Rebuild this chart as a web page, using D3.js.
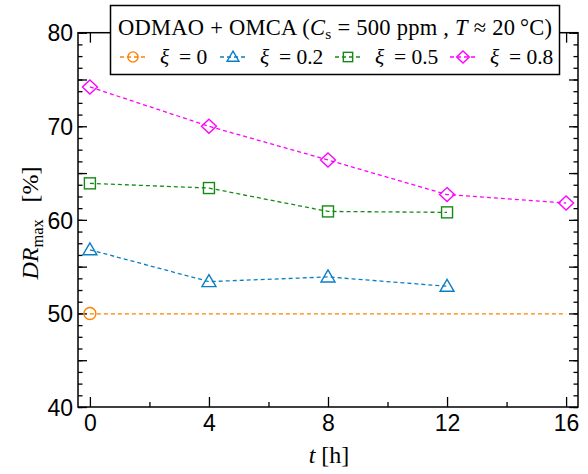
<!DOCTYPE html>
<html>
<head>
<meta charset="utf-8">
<script src="https://cdn.jsdelivr.net/npm/d3@7"></script>
<style>
  body { margin: 0; background: #fff; }
  svg { display: block; }
</style>
</head>
<body>
<svg id="chart" width="588" height="474"></svg>
<script>
// measured times [h]
var times = [0, 4, 8, 12, 16];

// DR_max [%] per xi, null where not measured
var xi0   = [50.0, null, null, null, null];
var xi02  = [56.8, 53.4, 53.9, 52.9, null];
var xi05  = [63.9, 63.4, 60.9, 60.8, null];
var xi08  = [74.2, 70.0, 66.4, 62.7, 61.8];

// xi = 0 reference level drawn across the whole range
var xi0Level = 49.95;
var xi0Span = [0, 16];

var xTicks = [0, 4, 8, 12, 16];
var xMinor = [2, 6, 10, 14];
var yTicks = [40, 50, 60, 70, 80];
var yMajor = [45, 55, 65, 75];
var yMinor = d3.range(40, 80.01, 1.25);

var legendLabels = ["0", "0.2", "0.5", "0.8"];

var series = [
    {"id": "xi0",  "values": xi0,  "color": "#ff8000", "shape": "circle"},
    {"id": "xi02", "values": xi02, "color": "#0a7fc4", "shape": "triangle"},
    {"id": "xi05", "values": xi05, "color": "#168a16", "shape": "square"},
    {"id": "xi08", "values": xi08, "color": "#ff00ff", "shape": "diamond"}];

var svg = d3.select("#chart");

// plot box (window.top is read-only, so no bare "top")
var plotL = 78, plotR = 578, plotT = 32.7, plotB = 407;

var x = d3.scaleLinear().domain([-0.4, 16.4]).range([plotL, plotR]);
var y = d3.scaleLinear().domain([40, 80]).range([plotB, plotT]);

//Draw a marker of the given shape centered at (cx, cy)
function drawMarker(g, shape, cx, cy, color, k) {
    k = typeof k !== 'undefined' ? k : 1;
    var m;
    if (shape == "circle") {
        m = g.append("circle").attr("cx", cx).attr("cy", cy).attr("r", 6 * k);
    }
    else if (shape == "triangle") {
        m = g.append("path").attr("d", "M" + cx + "," + (cy - 7 * k) + "L" + (cx + 7 * k) + "," + (cy + 5 * k) + "L" + (cx - 7 * k) + "," + (cy + 5 * k) + "Z");
    }
    else if (shape == "square") {
        m = g.append("rect").attr("x", cx - 5.5 * k).attr("y", cy - 5.5 * k).attr("width", 11 * k).attr("height", 11 * k);
    }
    else {
        m = g.append("path").attr("d", "M" + cx + "," + (cy - 7 * k) + "L" + (cx + 7.5 * k) + "," + cy + "L" + cx + "," + (cy + 7 * k) + "L" + (cx - 7.5 * k) + "," + cy + "Z");
    }
    m.attr("fill", "none").attr("stroke", color).attr("stroke-width", 1.4);
}

//Axes with inward ticks
function tickAxis(axisFn, scale, values, size, pad, transform, labels) {
    var a = axisFn(scale).tickValues(values).tickSizeInner(-size).tickSizeOuter(0).tickPadding(pad);
    if (!labels) a.tickFormat("");
    var g = svg.append("g").attr("transform", transform).call(a);
    g.select(".domain").remove();
    g.selectAll("line").attr("stroke", "#000").attr("stroke-width", 1.3);
    g.selectAll("text").attr("font-family", "Liberation Sans, Arial, sans-serif").attr("font-size", 23).attr("fill", "#000");
    return g;
}

tickAxis(d3.axisBottom, x, xTicks, 10, 8, "translate(0," + plotB + ")", true);
tickAxis(d3.axisBottom, x, xMinor, 5, 8, "translate(0," + plotB + ")", false);
tickAxis(d3.axisTop, x, xTicks, 10, 9, "translate(0," + plotT + ")", false);
tickAxis(d3.axisTop, x, xMinor, 5, 9, "translate(0," + plotT + ")", false);

tickAxis(d3.axisLeft, y, yTicks, 9, 5, "translate(" + plotL + ",0)", true)
    .selectAll("text").attr("dy", "0.36em");
tickAxis(d3.axisLeft, y, yMajor, 9, 5, "translate(" + plotL + ",0)", false);
tickAxis(d3.axisLeft, y, yMinor, 4.5, 5, "translate(" + plotL + ",0)", false);
tickAxis(d3.axisRight, y, yTicks.concat(yMajor), 9, 5, "translate(" + plotR + ",0)", false);
tickAxis(d3.axisRight, y, yMinor, 4.5, 5, "translate(" + plotR + ",0)", false);

//Frame
svg.append("rect")
    .attr("x", plotL).attr("y", plotT)
    .attr("width", plotR - plotL).attr("height", plotB - plotT)
    .attr("fill", "none").attr("stroke", "#000").attr("stroke-width", 1.5);

//Reference line for xi = 0
svg.append("line")
    .attr("x1", x(xi0Span[0])).attr("x2", x(xi0Span[1]))
    .attr("y1", y(xi0Level)).attr("y2", y(xi0Level))
    .attr("stroke", series[0].color).attr("stroke-width", 1.3)
    .attr("stroke-dasharray", "4,3");

var line = d3.line()
    .defined(function(d) { return d.v !== null; })
    .x(function(d) { return x(d.t); })
    .y(function(d) { return y(d.v); });

series.forEach(function(s) {
    var pts = times.map(function(t, i) { return {"t": t, "v": s.values[i]}; });
    var g = svg.append("g").attr("id", s.id);
    g.append("path")
        .attr("d", line(pts))
        .attr("fill", "none")
        .attr("stroke", s.color)
        .attr("stroke-width", 1.3)
        .attr("stroke-dasharray", "4,3");
    pts.forEach(function(d) {
        if (d.v !== null) drawMarker(g, s.shape, x(d.t), y(d.v), s.color);
    });
});

//Axis titles
var serif = "Liberation Serif, Times New Roman, serif";

var xt = svg.append("text")
    .attr("x", 329).attr("y", 463)
    .attr("text-anchor", "middle")
    .attr("font-family", serif).attr("font-size", 24);
xt.append("tspan").attr("font-style", "italic").text("t");
xt.append("tspan").text(" [h]");

var yt = svg.append("text")
    .attr("transform", "translate(38,223) rotate(-90)")
    .attr("text-anchor", "middle")
    .attr("font-family", serif).attr("font-size", 24);
yt.append("tspan").attr("font-style", "italic").text("DR");
yt.append("tspan").attr("font-size", 16.5).attr("dy", 5).text("max");
yt.append("tspan").attr("dy", -5).text("\u2002\u2009[%]");

//Legend
var lg = svg.append("g").attr("id", "legend");
lg.append("rect")
    .attr("x", 110.5).attr("y", 5.5).attr("width", 449).attr("height", 69)
    .attr("fill", "#fff").attr("stroke", "#000").attr("stroke-width", 1.5);

var title = lg.append("text")
    .attr("x", 118).attr("y", 35)
    .attr("textLength", 434).attr("lengthAdjust", "spacing")
    .attr("font-family", serif).attr("font-size", 22.5);
title.append("tspan").text("ODMAO + OMCA (");
title.append("tspan").attr("font-style", "italic").text("C");
title.append("tspan").attr("font-size", 15.5).attr("dy", 4).text("s");
title.append("tspan").attr("dy", -4).text(" = 500 ppm , ");
title.append("tspan").attr("font-style", "italic").text("T");
title.append("tspan").text(" \u2248 20\u2009\u00b0C)");

var entryX = [133, 233, 348, 463];
series.forEach(function(s, i) {
    var cx = entryX[i], cy = 57;
    lg.append("line")
        .attr("x1", cx - 13).attr("x2", cx + 13)
        .attr("y1", cy).attr("y2", cy)
        .attr("stroke", s.color).attr("stroke-width", 1.3)
        .attr("stroke-dasharray", "4,3");
    drawMarker(lg, s.shape, cx, cy, s.color, 0.85);
    var t = lg.append("text")
        .attr("x", cx + 27).attr("y", 64)
        .attr("font-family", serif).attr("font-size", 21.5);
    t.append("tspan").attr("font-style", "italic").text("\u03be");
    t.append("tspan").text("\u2009 = " + legendLabels[i]);
});
</script>
</body>
</html>
